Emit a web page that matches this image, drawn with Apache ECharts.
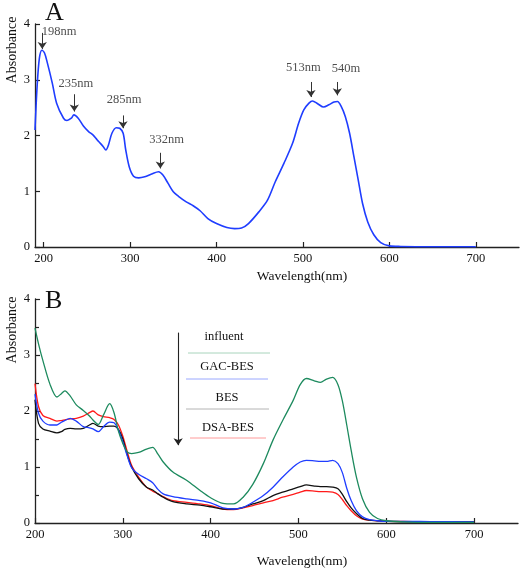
<!DOCTYPE html>
<html><head><meta charset="utf-8">
<script src="https://cdn.jsdelivr.net/npm/echarts@6/dist/echarts.min.js"></script>
<style>html,body{margin:0;padding:0;background:#fff}#c{width:520px;height:569px}</style>
</head><body><div id="c"></div>
<script>
// ---- Panel A data ----
const A_nm = [190,192.4,195,198,201,204,210,215,223,227,232,235,240,246,252,257,262,265,269,272,275,279,284,288,292,295,299,304,310,317,325,333,338,344,350,356,365,373,381,390,400,412,421,429,437,449,459,468,478,488,495,501,507,511,517,524,530,536,540,544,549,554,559,564,569,575,582,590,600,613,650,700];
const A_abs = [2.1,2.87,3.38,3.53,3.48,3.32,2.94,2.58,2.31,2.27,2.31,2.37,2.31,2.17,2.07,2.01,1.92,1.87,1.80,1.74,1.83,2.04,2.14,2.13,2.04,1.74,1.44,1.27,1.24,1.26,1.31,1.35,1.29,1.14,0.99,0.91,0.81,0.74,0.65,0.51,0.42,0.35,0.33,0.34,0.42,0.63,0.84,1.17,1.50,1.86,2.22,2.46,2.58,2.62,2.57,2.51,2.55,2.60,2.61,2.53,2.34,2.04,1.62,1.20,0.78,0.45,0.22,0.08,0.02,0.01,0.005,0.005];
// peak annotations: label, arrow x, arrow top, arrow tip, label x, label y
const peakLabels = ['198nm','235nm','285nm','332nm','513nm','540m'];
const peakArrowX = [198.4,235.5,291.8,335,509.3,539.8];
const peakArrowTop = [3.84,2.74,2.36,1.69,2.96,2.96];
const peakArrowTip = [3.55,2.43,2.13,1.41,2.69,2.72];
const peakLabelX = [217.8,237.4,293,342.4,500.4,549.8];
const peakLabelY = [3.86,2.92,2.65,1.93,3.22,3.20];

// ---- Panel B data ----
const B_nm = [200,204,209,217,225,230,234,240,247,255,262,266,272,278,285,290,295,300,305,310,318,327,334,340,346,357,373,388,400,414,426,437,448,460,471,482,494,502,509,518,525,532,539,545,550,555,560,566,573,581,590,600,620,650,700];
const influent = [3.48,3.2,2.9,2.48,2.25,2.31,2.36,2.27,2.11,2.01,1.91,1.84,1.76,1.93,2.13,1.97,1.64,1.42,1.27,1.24,1.26,1.32,1.35,1.23,1.09,0.91,0.76,0.58,0.45,0.35,0.34,0.46,0.69,1.06,1.48,1.83,2.19,2.47,2.58,2.54,2.51,2.57,2.60,2.47,2.18,1.75,1.30,0.82,0.43,0.19,0.08,0.04,0.02,0.01,0.01];
const gacBes = [2.3,1.96,1.82,1.75,1.75,1.80,1.83,1.87,1.82,1.72,1.70,1.68,1.63,1.72,1.80,1.79,1.66,1.45,1.20,0.99,0.87,0.79,0.72,0.60,0.52,0.47,0.43,0.40,0.36,0.27,0.25,0.28,0.37,0.49,0.64,0.82,1.00,1.09,1.12,1.11,1.10,1.10,1.12,1.06,0.90,0.62,0.40,0.22,0.11,0.06,0.04,0.03,0.03,0.025,0.02];
const bes = [2.2,1.78,1.68,1.64,1.61,1.63,1.67,1.69,1.68,1.69,1.75,1.78,1.73,1.72,1.73,1.73,1.67,1.50,1.22,1.00,0.79,0.64,0.59,0.52,0.46,0.38,0.34,0.32,0.29,0.25,0.25,0.28,0.34,0.40,0.49,0.55,0.61,0.65,0.68,0.66,0.65,0.65,0.64,0.61,0.51,0.38,0.27,0.17,0.08,0.05,0.04,0.03,0.02,0.02,0.02];
const dsaBes = [2.49,2.08,1.92,1.87,1.82,1.83,1.84,1.86,1.87,1.91,1.97,2.00,1.93,1.90,1.88,1.85,1.75,1.55,1.28,1.03,0.82,0.64,0.57,0.52,0.47,0.40,0.37,0.34,0.31,0.25,0.24,0.27,0.31,0.36,0.40,0.46,0.51,0.55,0.58,0.57,0.56,0.56,0.55,0.51,0.42,0.31,0.22,0.13,0.07,0.05,0.04,0.03,0.03,0.02,0.02];
const seriesNames = ['influent','GAC-BES','BES','DSA-BES'];
// sequence arrow in panel B (data coords)
const seqArrowX = 363, seqArrowTop = 3.40, seqArrowTip = 1.39;
const xTicks = [200,300,400,500,600,700];

const FONT = '"Liberation Serif", "DejaVu Serif", serif';
const zip = (xs, ys) => xs.map((x, i) => [x, ys[i]]);

function xAxisCfg(gi, min) {
  return {
    type: 'value', gridIndex: gi, min: min, max: 750,
    axisLine: {show: true, onZero: false, lineStyle: {color: '#222', width: 1.3}},
    axisTick: {show: true, inside: true, length: 5, customValues: xTicks, lineStyle: {color: '#222', width: 1.2}},
    axisLabel: {customValues: xTicks, color: '#111', fontFamily: FONT, fontSize: 12.5, margin: 5},
    splitLine: {show: false}
  };
}
function yAxisCfg(gi) {
  return {
    type: 'value', gridIndex: gi, min: 0, max: 4, interval: 1,
    axisLine: {show: true, lineStyle: {color: '#222', width: 1.3}},
    axisTick: {show: true, inside: true, length: 5, lineStyle: {color: '#222', width: 1.2}},
    minorTick: {show: gi === 1, splitNumber: 2, length: 4, lineStyle: {color: '#222', width: 1.2}},
    axisLabel: {color: '#111', fontFamily: FONT, fontSize: 12.5, margin: 5},
    splitLine: {show: false}
  };
}

const arrowLines = peakLabels.map((n, i) => [
  {coord: [peakArrowX[i], peakArrowTop[i]]},
  {coord: [peakArrowX[i], peakArrowTip[i]]}
]);

const lineColors = {influent: '#1d8a5e', 'GAC-BES': '#1f3dff', BES: '#111111', 'DSA-BES': '#ff1a1a'};

const chart = echarts.init(document.getElementById('c'), null, {renderer: 'canvas'});
chart.setOption({
  animation: false,
  backgroundColor: '#fff',
  grid: [
    {left: 35, top: 24, width: 484, height: 223},
    {left: 35, top: 299, width: 483, height: 224}
  ],
  xAxis: [xAxisCfg(0, 190), xAxisCfg(1, 200)],
  yAxis: [yAxisCfg(0), yAxisCfg(1)],
  series: [
    {
      type: 'line', xAxisIndex: 0, yAxisIndex: 0, data: zip(A_nm, A_abs),
      showSymbol: false, smooth: 0.3, lineStyle: {color: '#1f3dff', width: 1.6},
      markLine: {
        silent: true, symbol: ['none', 'arrow'], symbolSize: 7,
        label: {show: false}, lineStyle: {color: '#333', width: 1, type: 'solid'},
        data: arrowLines
      }
    },
    {
      type: 'scatter', xAxisIndex: 0, yAxisIndex: 0, symbolSize: 1, silent: true,
      itemStyle: {color: 'rgba(0,0,0,0)'},
      data: peakLabels.map((n, i) => ({value: [peakLabelX[i], peakLabelY[i]], name: n})),
      label: {show: true, position: 'inside', formatter: p => p.name, color: '#222', fontFamily: FONT, fontSize: 12.5}
    },
    {
      type: 'line', name: 'DSA-BES', xAxisIndex: 1, yAxisIndex: 1, data: zip(B_nm, dsaBes),
      showSymbol: false, smooth: 0.3, lineStyle: {color: lineColors['DSA-BES'], width: 1.3}
    },
    {
      type: 'line', name: 'BES', xAxisIndex: 1, yAxisIndex: 1, data: zip(B_nm, bes),
      showSymbol: false, smooth: 0.3, lineStyle: {color: lineColors['BES'], width: 1.3}
    },
    {
      type: 'line', name: 'GAC-BES', xAxisIndex: 1, yAxisIndex: 1, data: zip(B_nm, gacBes),
      showSymbol: false, smooth: 0.3, lineStyle: {color: lineColors['GAC-BES'], width: 1.3}
    },
    {
      type: 'line', name: 'influent', xAxisIndex: 1, yAxisIndex: 1, data: zip(B_nm, influent),
      showSymbol: false, smooth: 0.3, lineStyle: {color: lineColors['influent'], width: 1.3},
      markLine: {
        silent: true, symbol: ['none', 'arrow'], symbolSize: 7,
        label: {show: false}, lineStyle: {color: '#222', width: 1.1, type: 'solid'},
        data: [[{coord: [seqArrowX, seqArrowTop]}, {coord: [seqArrowX, seqArrowTip]}]]
      }
    }
  ],
  graphic: [
    {type: 'text', left: 45, top: 0, style: {text: 'A', font: '26px ' + FONT, fill: '#111'}},
    {type: 'text', left: 45, top: 288, style: {text: 'B', font: '26px ' + FONT, fill: '#111'}},
    {type: 'text', x: 12, y: 50, rotation: Math.PI / 2, style: {text: 'Absorbance', font: '14px ' + FONT, fill: '#111', align: 'center', verticalAlign: 'middle'}},
    {type: 'text', x: 12, y: 330, rotation: Math.PI / 2, style: {text: 'Absorbance', font: '14px ' + FONT, fill: '#111', align: 'center', verticalAlign: 'middle'}},
    {type: 'text', x: 302, y: 276, style: {text: 'Wavelength(nm)', font: '13.5px ' + FONT, fill: '#111', align: 'center', verticalAlign: 'middle'}},
    {type: 'text', x: 302, y: 561, style: {text: 'Wavelength(nm)', font: '13.5px ' + FONT, fill: '#111', align: 'center', verticalAlign: 'middle'}},
    // legend of panel B
    {type: 'text', x: 224, y: 337, style: {text: seriesNames[0], font: '12.5px ' + FONT, fill: '#111', align: 'center', verticalAlign: 'middle'}},
    {type: 'line', shape: {x1: 188, y1: 353, x2: 270, y2: 353}, style: {stroke: '#a8d4bc', lineWidth: 1}},
    {type: 'text', x: 227, y: 367, style: {text: seriesNames[1], font: '12.5px ' + FONT, fill: '#111', align: 'center', verticalAlign: 'middle'}},
    {type: 'line', shape: {x1: 186, y1: 379, x2: 268, y2: 379}, style: {stroke: '#9aa8ff', lineWidth: 1}},
    {type: 'text', x: 227, y: 398, style: {text: seriesNames[2], font: '12.5px ' + FONT, fill: '#111', align: 'center', verticalAlign: 'middle'}},
    {type: 'line', shape: {x1: 186, y1: 409, x2: 269, y2: 409}, style: {stroke: '#b4b4b4', lineWidth: 1}},
    {type: 'text', x: 228, y: 428, style: {text: seriesNames[3], font: '12.5px ' + FONT, fill: '#111', align: 'center', verticalAlign: 'middle'}},
    {type: 'line', shape: {x1: 190, y1: 438, x2: 266, y2: 438}, style: {stroke: '#ff9a9a', lineWidth: 1}}
  ]
});
</script></body></html>
